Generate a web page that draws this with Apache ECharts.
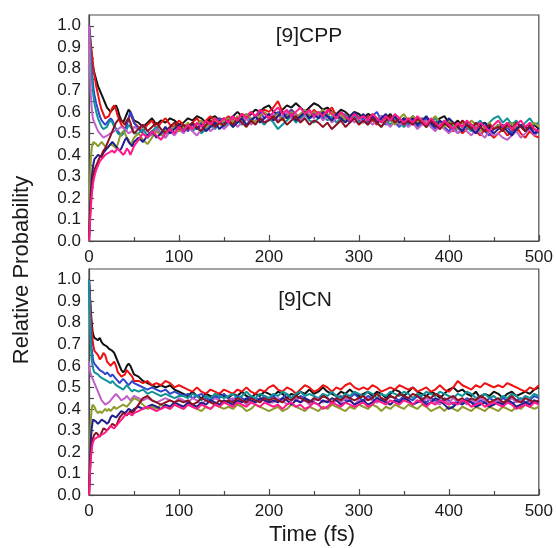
<!DOCTYPE html>
<html>
<head>
<meta charset="utf-8">
<script src="https://cdn.jsdelivr.net/npm/echarts@6/dist/echarts.min.js"></script>
<style>html,body{margin:0;padding:0;background:#fff;}#c{width:556px;height:548px;}</style>
</head>
<body>
<div id="c"></div>
<script>
// Time axis (fs)
const time = [0,1,2,3,4,5,6,8,10,12,14,16,18,20,22,24,26,28,30,32,34,36,38,40,42,44,46,48,50,
55,60,65,70,75,80,85,90,95,100,
105,110,115,120,125,130,135,140,145,150,
155,160,165,170,175,180,185,190,195,200,
205,210,215,220,225,230,235,240,245,250,
255,260,265,270,275,280,285,290,295,300,
305,310,315,320,325,330,335,340,345,350,
355,360,365,370,375,380,385,390,395,400,
405,410,415,420,425,430,435,440,445,450,
455,460,465,470,475,480,485,490,495,500];

const panelTitles = ['[9]CPP', '[9]CN'];
const xTicks = [0, 100, 200, 300, 400, 500];
const yTicks = [0.0, 0.1, 0.2, 0.3, 0.4, 0.5, 0.6, 0.7, 0.8, 0.9, 1.0];
const seriesColors = ['#111111', '#ee1111', '#3344cc', '#119499', '#c060c8', '#8f9a2a', '#1e1e8c', '#8b1020', '#ff1a8c'];

// ---------- [9]CPP ----------
const cppBlack = [1.00,.95,.90,.86,.82,.80,.78,.75,.72,.70,.68,.66,.64,.62,.61,.60,.61,.62,.63,.61,.58,.56,.55,.57,.59,.61,.60,.58,.56,
.55,.53,.55,.57,.54,.56,.55,.57,.56,.54,
.55,.57,.56,.58,.57,.55,.57,.58,.56,.57,
.56,.58,.60,.58,.57,.59,.61,.60,.62,.63,
.60,.59,.61,.63,.62,.64,.62,.60,.62,.64,
.63,.61,.62,.60,.59,.61,.60,.58,.60,.59,
.57,.59,.58,.56,.58,.57,.59,.56,.55,.57,
.56,.58,.55,.57,.56,.54,.55,.57,.58,.55,
.54,.56,.53,.55,.54,.52,.54,.55,.53,.52,
.54,.52,.55,.53,.51,.54,.53,.51,.54,.52];
const cppRed = [1.00,.96,.92,.88,.84,.80,.77,.72,.68,.64,.61,.59,.57,.57,.58,.60,.62,.63,.61,.58,.56,.54,.53,.52,.54,.57,.59,.57,.55,
.53,.51,.54,.56,.52,.55,.57,.54,.53,.56,
.54,.52,.55,.57,.54,.56,.58,.55,.57,.56,
.58,.56,.57,.59,.58,.60,.58,.59,.61,.60,
.62,.65,.60,.58,.61,.59,.57,.60,.58,.61,
.59,.57,.60,.62,.58,.56,.59,.57,.58,.56,
.55,.58,.56,.54,.57,.55,.58,.56,.54,.56,
.57,.54,.56,.55,.53,.56,.54,.52,.55,.53,
.51,.53,.50,.52,.54,.51,.49,.52,.50,.48,
.50,.52,.49,.51,.53,.50,.48,.51,.49,.48];
const cppBlue = [1.00,.93,.86,.80,.75,.71,.68,.64,.61,.58,.56,.55,.54,.55,.56,.57,.56,.54,.52,.51,.50,.49,.50,.52,.54,.57,.60,.58,.55,
.52,.50,.48,.50,.52,.49,.51,.53,.50,.52,
.53,.51,.54,.52,.55,.53,.56,.54,.57,.55,
.56,.58,.55,.57,.59,.56,.58,.60,.57,.59,
.58,.60,.57,.59,.61,.58,.56,.59,.57,.58,
.60,.57,.59,.56,.58,.60,.57,.55,.58,.56,
.57,.55,.58,.60,.56,.54,.57,.55,.53,.56,
.54,.56,.53,.55,.57,.54,.52,.55,.53,.51,
.53,.50,.52,.55,.52,.50,.53,.51,.49,.52,
.54,.51,.53,.50,.52,.54,.51,.53,.50,.52];
const cppTeal = [1.00,.90,.82,.76,.71,.67,.64,.60,.57,.55,.53,.52,.52,.53,.55,.56,.55,.53,.52,.50,.50,.49,.50,.51,.52,.54,.53,.52,.50,
.50,.52,.49,.51,.53,.50,.48,.51,.53,.51,
.52,.54,.51,.53,.50,.52,.54,.52,.55,.53,
.55,.53,.56,.54,.57,.55,.58,.56,.54,.57,
.55,.52,.54,.56,.58,.55,.57,.59,.56,.55,
.57,.59,.56,.58,.55,.57,.59,.56,.58,.55,
.56,.54,.57,.55,.53,.56,.54,.57,.55,.53,
.55,.57,.54,.56,.53,.55,.57,.54,.56,.53,
.54,.52,.55,.53,.51,.54,.56,.53,.55,.57,
.58,.55,.57,.54,.56,.53,.55,.57,.54,.55];
const cppViolet = [1.00,.80,.68,.62,.58,.56,.55,.53,.51,.50,.49,.48,.48,.49,.49,.50,.50,.51,.51,.52,.52,.53,.53,.52,.51,.50,.50,.51,.53,
.52,.54,.51,.49,.52,.50,.48,.51,.49,.52,
.50,.53,.51,.49,.52,.54,.51,.53,.55,.52,
.54,.56,.53,.55,.57,.54,.56,.58,.55,.57,
.59,.56,.58,.60,.57,.59,.56,.58,.60,.57,
.59,.56,.58,.55,.57,.59,.56,.58,.55,.57,
.55,.57,.54,.56,.58,.55,.53,.56,.54,.55,
.53,.55,.52,.54,.56,.53,.51,.54,.52,.50,
.52,.50,.53,.51,.49,.52,.50,.48,.51,.49,
.50,.48,.47,.49,.51,.48,.50,.52,.49,.51];
const cppOlive = [0,.25,.38,.43,.45,.46,.46,.45,.44,.45,.46,.46,.44,.43,.44,.45,.45,.44,.43,.45,.48,.50,.51,.50,.48,.47,.45,.46,.48,
.50,.47,.45,.48,.51,.49,.52,.50,.53,.51,
.53,.55,.52,.54,.56,.53,.55,.57,.54,.56,
.57,.55,.58,.56,.59,.57,.55,.58,.60,.58,
.57,.59,.56,.58,.60,.57,.59,.61,.58,.60,
.59,.61,.58,.60,.57,.59,.56,.58,.60,.57,
.58,.56,.59,.57,.55,.58,.56,.54,.57,.59,
.56,.58,.55,.57,.54,.56,.58,.55,.53,.56,
.54,.52,.55,.53,.56,.54,.51,.53,.55,.52,
.54,.51,.53,.55,.52,.54,.51,.53,.55,.53];
const cppNavy = [0,.12,.22,.29,.33,.36,.38,.39,.40,.40,.39,.41,.42,.43,.44,.45,.46,.45,.44,.43,.42,.43,.45,.47,.48,.46,.45,.44,.46,
.48,.46,.49,.51,.48,.50,.53,.50,.52,.54,
.51,.53,.55,.52,.54,.51,.53,.55,.52,.54,
.56,.53,.55,.57,.54,.56,.58,.55,.57,.59,
.56,.58,.60,.57,.59,.56,.58,.60,.57,.59,
.57,.60,.58,.56,.59,.57,.55,.58,.60,.57,
.59,.56,.58,.55,.57,.59,.56,.58,.55,.57,
.55,.57,.54,.56,.58,.55,.53,.56,.54,.57,
.55,.53,.51,.54,.52,.50,.53,.55,.52,.50,
.52,.54,.51,.49,.52,.54,.51,.53,.50,.51];
const cppMaroon = [0,.10,.18,.24,.28,.31,.33,.35,.37,.39,.40,.42,.43,.45,.47,.49,.51,.53,.55,.56,.57,.56,.55,.54,.56,.57,.55,.52,.50,
.52,.54,.51,.53,.55,.52,.50,.53,.55,.52,
.54,.52,.55,.53,.51,.54,.56,.53,.55,.54,
.56,.54,.57,.55,.53,.56,.54,.57,.55,.56,
.58,.55,.57,.54,.56,.58,.55,.57,.54,.56,
.55,.53,.55,.52,.54,.56,.53,.55,.57,.54,
.56,.54,.57,.55,.53,.56,.58,.55,.57,.54,
.56,.54,.57,.55,.53,.56,.54,.52,.55,.53,
.55,.53,.56,.54,.52,.55,.53,.51,.54,.52,
.53,.51,.54,.52,.55,.53,.51,.54,.52,.51];
const cppPink = [0,.08,.15,.21,.25,.28,.30,.33,.35,.37,.38,.39,.40,.40,.41,.41,.42,.41,.42,.43,.42,.41,.40,.41,.43,.42,.40,.42,.44,
.47,.50,.48,.51,.49,.47,.50,.52,.50,.53,
.51,.54,.52,.55,.53,.56,.54,.57,.55,.57,
.55,.58,.56,.59,.57,.60,.58,.61,.59,.57,
.60,.62,.59,.61,.58,.60,.62,.59,.61,.58,
.60,.58,.61,.59,.57,.60,.58,.56,.59,.57,
.58,.56,.59,.57,.55,.58,.56,.59,.57,.55,
.57,.55,.58,.56,.54,.57,.55,.53,.56,.54,
.52,.55,.53,.56,.54,.52,.55,.53,.51,.54,
.56,.53,.55,.52,.54,.56,.53,.55,.52,.51];

// ---------- [9]CN ----------
const cnBlack = [1.00,.93,.86,.80,.76,.74,.73,.73,.72,.73,.71,.70,.70,.69,.68,.68,.67,.66,.64,.62,.60,.58,.57,.58,.60,.61,.60,.58,.56,
.55,.53,.52,.51,.50,.51,.50,.51,.49,.48,
.47,.46,.48,.46,.45,.47,.46,.45,.47,.46,
.45,.47,.46,.48,.46,.45,.47,.46,.48,.47,
.46,.48,.47,.45,.47,.46,.48,.47,.49,.47,
.48,.50,.48,.47,.46,.48,.47,.49,.47,.46,
.47,.48,.46,.48,.47,.45,.47,.49,.48,.46,
.48,.50,.48,.47,.46,.48,.47,.45,.47,.49,
.50,.48,.49,.47,.46,.48,.45,.47,.46,.48,
.47,.45,.47,.48,.46,.47,.48,.47,.49,.50];
const cnRed = [1.00,.92,.84,.77,.72,.69,.67,.66,.65,.63,.64,.66,.65,.62,.61,.60,.61,.62,.60,.57,.56,.55,.55,.56,.58,.57,.56,.55,.53,
.53,.52,.53,.51,.52,.51,.53,.52,.50,.51,
.50,.49,.48,.50,.48,.47,.49,.48,.47,.49,
.48,.47,.49,.48,.50,.48,.47,.49,.48,.50,
.51,.49,.48,.50,.49,.47,.49,.51,.50,.48,
.49,.51,.50,.48,.50,.49,.51,.52,.50,.49,
.50,.49,.51,.50,.48,.49,.50,.49,.51,.50,
.49,.50,.48,.49,.50,.48,.49,.51,.49,.48,
.50,.53,.51,.50,.49,.51,.50,.52,.51,.50,
.51,.50,.52,.51,.50,.49,.48,.50,.49,.51];
const cnBlue = [1.00,.86,.75,.68,.64,.62,.61,.60,.59,.58,.58,.57,.56,.57,.56,.55,.56,.55,.54,.53,.52,.53,.54,.53,.52,.51,.52,.53,.52,
.51,.50,.49,.50,.49,.48,.49,.47,.48,.47,
.46,.47,.45,.46,.47,.45,.44,.46,.45,.47,
.45,.44,.46,.45,.44,.46,.45,.44,.46,.45,
.46,.44,.45,.47,.45,.44,.46,.45,.43,.45,
.44,.46,.45,.43,.45,.46,.44,.45,.47,.45,
.44,.46,.45,.43,.45,.44,.46,.45,.44,.46,
.45,.44,.46,.45,.43,.45,.44,.43,.45,.44,
.42,.44,.43,.45,.44,.42,.44,.43,.45,.44,
.43,.45,.44,.42,.44,.45,.43,.44,.46,.45];
const cnTeal = [1.00,.82,.70,.63,.60,.58,.57,.57,.56,.55,.55,.54,.54,.53,.53,.52,.53,.52,.51,.51,.50,.50,.49,.50,.51,.50,.49,.48,.49,
.48,.49,.47,.48,.47,.46,.47,.46,.45,.46,
.46,.45,.47,.46,.44,.46,.45,.47,.46,.45,
.46,.47,.45,.46,.48,.46,.45,.47,.46,.45,
.47,.46,.48,.47,.45,.47,.48,.46,.47,.46,
.45,.47,.46,.48,.46,.45,.47,.46,.48,.47,
.46,.48,.47,.45,.47,.46,.48,.47,.46,.48,
.47,.45,.47,.46,.48,.47,.46,.48,.47,.46,
.45,.47,.46,.48,.47,.45,.46,.47,.45,.46,
.44,.46,.45,.47,.46,.44,.46,.45,.47,.46];
const cnViolet = [.62,.58,.56,.55,.54,.53,.52,.50,.48,.46,.44,.43,.42,.42,.43,.44,.45,.46,.47,.46,.45,.44,.44,.45,.46,.45,.44,.45,.46,
.45,.44,.45,.44,.43,.44,.45,.44,.43,.45,
.44,.43,.45,.44,.42,.44,.43,.45,.44,.43,
.44,.45,.43,.44,.42,.44,.43,.45,.44,.43,
.43,.45,.44,.42,.44,.45,.43,.44,.42,.44,
.45,.43,.44,.42,.44,.43,.45,.44,.42,.44,
.43,.45,.44,.43,.45,.44,.42,.44,.43,.45,
.44,.42,.44,.43,.45,.44,.43,.42,.44,.43,
.45,.43,.44,.42,.44,.43,.45,.44,.42,.43,
.44,.42,.43,.45,.43,.44,.42,.43,.44,.42];
const cnOlive = [0,.22,.35,.40,.42,.42,.41,.39,.38,.39,.38,.39,.40,.39,.40,.39,.40,.41,.40,.40,.41,.41,.42,.42,.41,.42,.43,.44,.45,
.44,.42,.40,.41,.40,.42,.41,.40,.42,.41,
.40,.42,.41,.40,.39,.41,.40,.42,.41,.40,
.41,.40,.42,.41,.39,.40,.42,.41,.40,.39,
.40,.41,.39,.40,.42,.41,.40,.39,.41,.40,
.39,.41,.40,.42,.41,.40,.39,.41,.40,.42,
.41,.40,.42,.41,.39,.41,.40,.42,.41,.40,
.42,.41,.40,.42,.41,.39,.40,.41,.39,.41,
.40,.39,.41,.40,.39,.41,.40,.39,.41,.40,
.39,.41,.40,.39,.41,.40,.42,.41,.40,.41];
const cnNavy = [0,.15,.25,.31,.34,.35,.35,.34,.33,.34,.35,.35,.34,.33,.34,.36,.37,.37,.36,.37,.38,.39,.39,.38,.39,.40,.40,.39,.40,
.41,.40,.41,.42,.41,.40,.42,.41,.43,.42,
.41,.43,.42,.41,.43,.42,.44,.43,.42,.44,
.43,.42,.44,.43,.45,.44,.43,.45,.44,.43,
.44,.43,.45,.44,.42,.44,.43,.45,.44,.43,
.42,.44,.43,.45,.44,.42,.43,.44,.42,.43,
.44,.42,.43,.45,.44,.43,.42,.44,.43,.45,
.44,.42,.43,.44,.42,.43,.45,.44,.42,.40,
.41,.43,.42,.44,.43,.41,.42,.43,.41,.42,
.43,.42,.44,.43,.41,.42,.43,.42,.44,.43];
const cnMaroon = [0,.10,.18,.23,.26,.27,.28,.29,.28,.27,.29,.31,.31,.30,.31,.32,.33,.33,.32,.34,.36,.37,.38,.38,.37,.38,.39,.38,.39,
.42,.45,.46,.44,.43,.42,.43,.44,.43,.44,
.43,.44,.42,.43,.45,.44,.43,.42,.44,.43,
.44,.43,.45,.44,.43,.45,.44,.43,.45,.44,
.45,.44,.43,.45,.44,.46,.45,.44,.43,.45,
.44,.46,.45,.43,.45,.44,.46,.45,.44,.45,
.46,.44,.45,.47,.45,.44,.46,.45,.47,.46,
.45,.47,.46,.44,.46,.45,.47,.46,.44,.45,
.46,.44,.45,.43,.45,.44,.46,.45,.43,.44,
.45,.43,.44,.46,.44,.43,.45,.44,.43,.44];
const cnPink = [0,.10,.17,.21,.24,.25,.26,.26,.27,.27,.28,.28,.29,.30,.31,.32,.32,.31,.31,.33,.34,.35,.36,.37,.37,.38,.38,.37,.38,
.39,.40,.41,.40,.39,.40,.41,.40,.42,.41,
.40,.42,.41,.40,.42,.41,.40,.42,.41,.43,
.42,.41,.43,.42,.41,.43,.42,.41,.43,.42,
.41,.42,.40,.42,.43,.41,.42,.40,.41,.43,
.42,.40,.41,.43,.42,.41,.43,.42,.41,.42,
.43,.41,.42,.44,.43,.42,.44,.43,.42,.44,
.43,.42,.44,.43,.41,.43,.42,.44,.43,.42,
.43,.42,.44,.43,.41,.42,.43,.41,.42,.43,
.42,.41,.43,.42,.40,.41,.42,.41,.43,.42];

const panels = [
  [cppBlack, cppRed, cppBlue, cppTeal, cppViolet, cppOlive, cppNavy, cppMaroon, cppPink],
  [cnBlack, cnRed, cnBlue, cnTeal, cnViolet, cnOlive, cnNavy, cnMaroon, cnPink]
];

const FONT = 'Liberation Sans, Arial, sans-serif';
const chart = echarts.init(document.getElementById('c'), null, {renderer: 'canvas'});

const grids = [
  {left: 89, right: 15, top: 15, height: 226},
  {left: 89, right: 15, top: 269, height: 226}
].map(g => Object.assign(g, {show: true, borderColor: '#4a4a4a', borderWidth: 1.2, backgroundColor: 'transparent', containLabel: false}));

const xAxes = [0, 1].map(i => ({
  type: 'value', gridIndex: i, min: xTicks[0], max: xTicks[xTicks.length - 1], interval: xTicks[1] - xTicks[0],
  axisLine: {show: true, lineStyle: {color: '#4a4a4a', width: 1.2}},
  axisTick: {show: true, inside: true, length: 6, lineStyle: {color: '#4a4a4a', width: 1.2}},
  minorTick: {show: true, splitNumber: 2, length: 4, lineStyle: {color: '#4a4a4a', width: 1.2}},
  axisLabel: {fontSize: 17, color: '#1a1a1a', fontFamily: FONT, margin: 8},
  splitLine: {show: false}
}));

const yAxes = [0, 1].map(i => ({
  type: 'value', gridIndex: i, min: yTicks[0], max: 1.05, interval: 0.05,
  axisLine: {show: true, lineStyle: {color: '#4a4a4a', width: 1.2}},
  axisTick: {show: true, inside: true, length: 5, lineStyle: {color: '#4a4a4a', width: 1.2}},
  axisLabel: {
    fontSize: 17, color: '#1a1a1a', fontFamily: FONT, margin: 8, showMaxLabel: false,
    formatter: v => {
      const hit = yTicks.find(t => Math.abs(t - v) < 1e-6);
      return hit === undefined ? '' : hit.toFixed(1);
    }
  },
  splitLine: {show: false}
}));

const series = [];
panels.forEach((arrs, p) => {
  arrs.forEach((vals, k) => {
    series.push({
      type: 'line', xAxisIndex: p, yAxisIndex: p, showSymbol: false, symbol: 'none',
      data: time.map((t, i) => [t, vals[i]]),
      lineStyle: {color: seriesColors[k], width: 2},
      itemStyle: {color: seriesColors[k]},
      silent: true, z: 2 + k
    });
  });
});

chart.setOption({
  animation: false,
  backgroundColor: '#ffffff',
  grid: grids,
  xAxis: xAxes,
  yAxis: yAxes,
  series: series,
  graphic: [
    {type: 'text', x: 309, y: 36, style: {text: panelTitles[0], font: '21px ' + FONT, fill: '#1a1a1a', align: 'center', verticalAlign: 'middle', textAlign: 'center', textVerticalAlign: 'middle'}},
    {type: 'text', x: 305, y: 300, style: {text: panelTitles[1], font: '21px ' + FONT, fill: '#1a1a1a', align: 'center', verticalAlign: 'middle', textAlign: 'center', textVerticalAlign: 'middle'}},
    {type: 'text', x: 22, y: 270, rotation: Math.PI / 2, style: {text: 'Relative Probability', font: '22px ' + FONT, fill: '#1a1a1a', align: 'center', verticalAlign: 'middle', textAlign: 'center', textVerticalAlign: 'middle'}},
    {type: 'text', x: 312, y: 535, style: {text: 'Time (fs)', font: '22px ' + FONT, fill: '#1a1a1a', align: 'center', verticalAlign: 'middle', textAlign: 'center', textVerticalAlign: 'middle'}}
  ]
});
</script>
</body>
</html>
